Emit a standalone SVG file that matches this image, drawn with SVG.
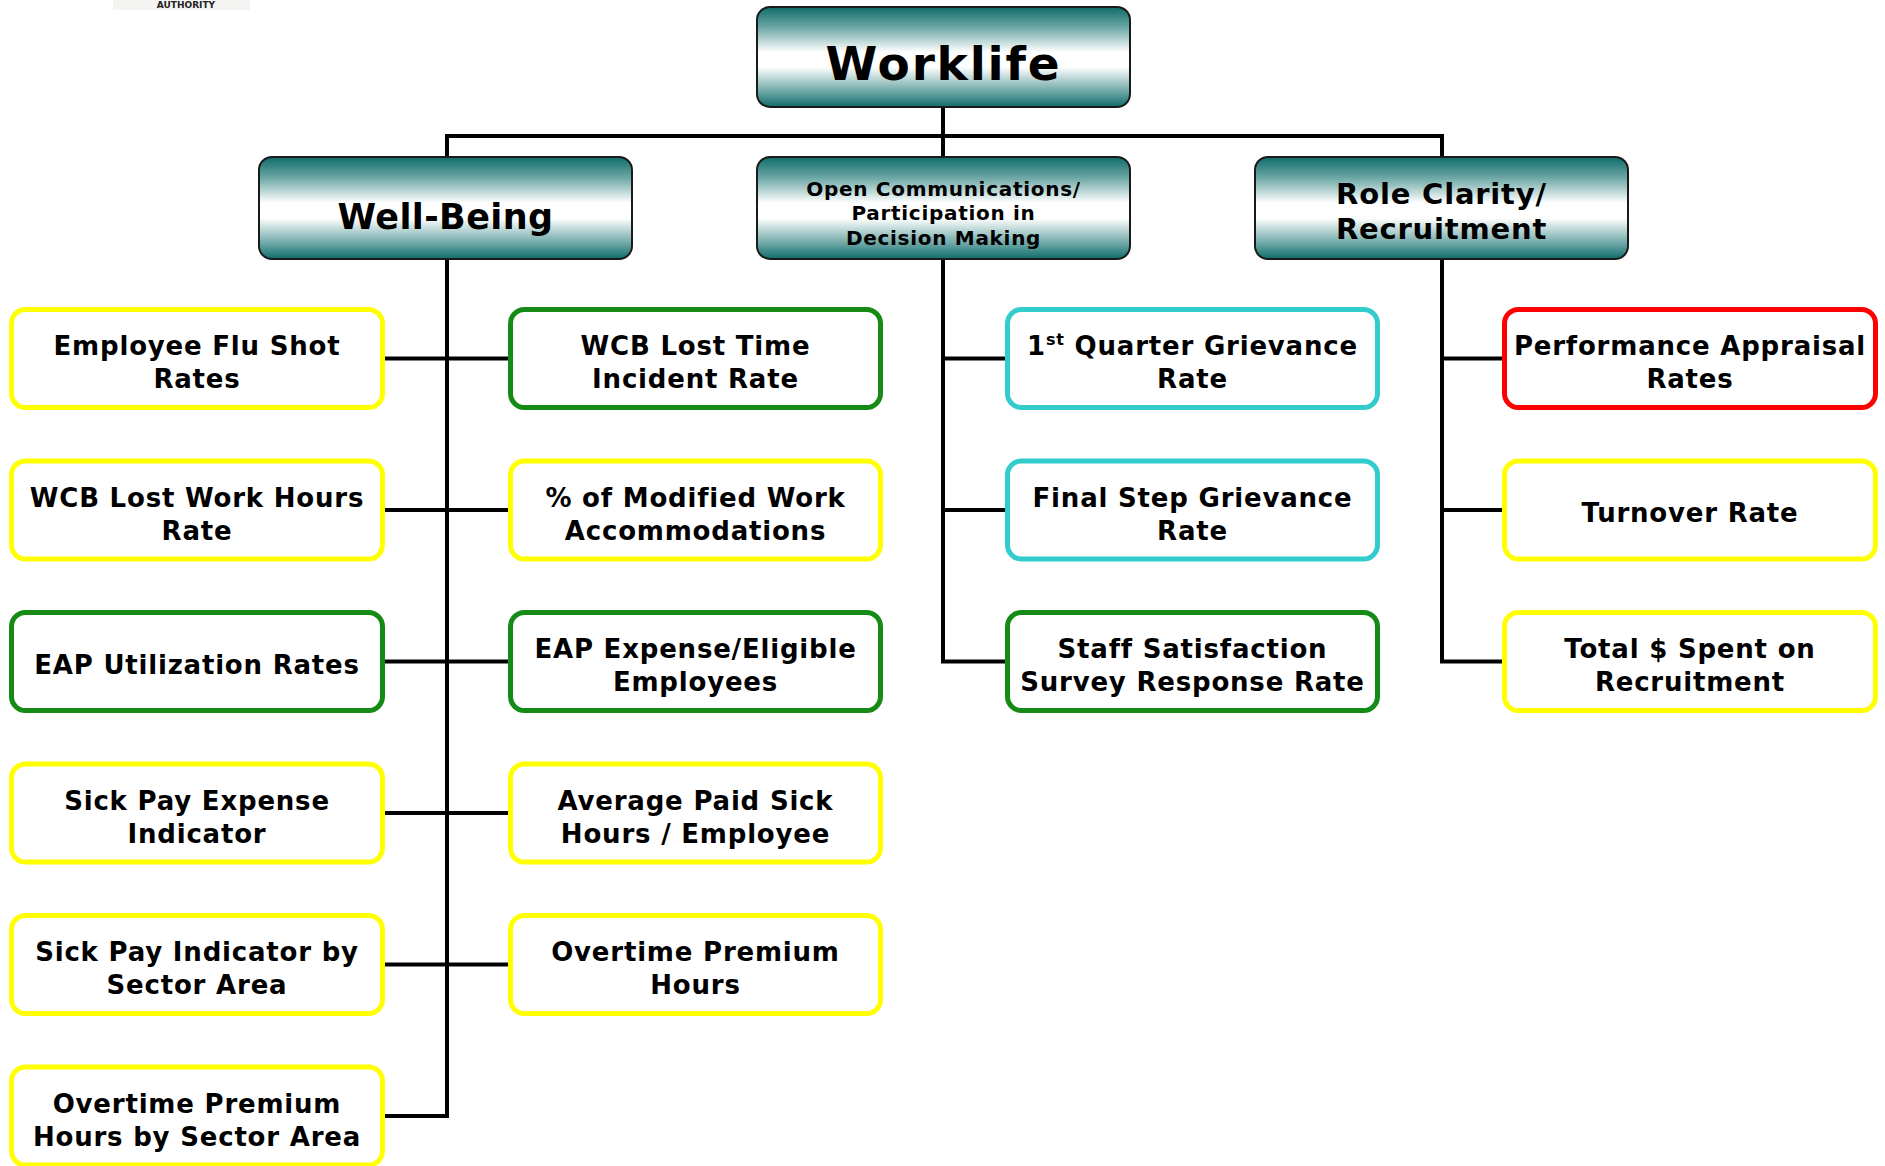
<svg xmlns="http://www.w3.org/2000/svg" width="1885" height="1166" viewBox="0 0 1885 1166">
<style>
  text { font-family: "DejaVu Sans", Verdana, sans-serif; font-weight: bold; fill: #000; text-anchor: middle; }
  .hdr { fill: url(#teal); stroke: #1a1a1a; stroke-width: 2; }
  .leaf { fill: #fff; stroke-width: 5; }
  .y { stroke: #ffff00; }
  .g { stroke: #158a15; }
  .c { stroke: #33cccc; }
  .r { stroke: #ff0000; }
  .lt { font-size: 26px; letter-spacing: 0.8px; }
  .conn { fill: none; stroke: #000; stroke-width: 4; stroke-linejoin: miter; stroke-linecap: butt; }
</style>
<defs>
  <linearGradient id="teal" x1="0" y1="0" x2="0" y2="1">
    <stop offset="0" stop-color="#0f6c6b"/>
    <stop offset="0.2" stop-color="#6aa6a4"/>
    <stop offset="0.45" stop-color="#ffffff"/>
    <stop offset="0.6" stop-color="#ffffff"/>
    <stop offset="0.85" stop-color="#6ba6a5"/>
    <stop offset="1" stop-color="#0f6c6b"/>
  </linearGradient>
</defs>
<rect width="1885" height="1166" fill="#fff"/>
<g id="logo">
  <rect x="113" y="0" width="137" height="10" fill="#f4f4f2"/>
  <text x="186" y="8" style="font-size:9px;fill:#222">AUTHORITY</text>
</g>

<g id="connectors">
  <path class="conn" d="M943 107 V157"/>
  <path class="conn" d="M447 157 V136 H1442 V157"/>
  <path class="conn" d="M447 259 V1116 H385"/>
  <path class="conn" d="M385 358.5 H508 M385 510 H508 M385 661.5 H508 M385 813 H508 M385 964.5 H508"/>
  <path class="conn" d="M943 259 V661.5 H1005 M943 358.5 H1005 M943 510 H1005"/>
  <path class="conn" d="M1442 259 V661.5 H1502 M1442 358.5 H1502 M1442 510 H1502"/>
</g>

<g id="worklife">
  <rect class="hdr" x="757" y="7" width="373" height="100" rx="13"/>
  <text x="943.5" y="80" style="font-size:47px;letter-spacing:1.8px">Worklife</text>
</g>
<g id="well-being">
  <rect class="hdr" x="259" y="157" width="373" height="102" rx="13"/>
  <text x="445.5" y="229" style="font-size:35px;letter-spacing:0.4px">Well-Being</text>
</g>
<g id="open-communications">
  <rect class="hdr" x="757" y="157" width="373" height="102" rx="13"/>
  <text x="943.5" y="196" style="font-size:20px;letter-spacing:0.7px">Open Communications/</text>
  <text x="943.5" y="220" style="font-size:20px;letter-spacing:0.7px">Participation in</text>
  <text x="943.5" y="245" style="font-size:20px;letter-spacing:0.7px">Decision Making</text>
</g>
<g id="role-clarity">
  <rect class="hdr" x="1255" y="157" width="373" height="102" rx="13"/>
  <text x="1441.5" y="204" style="font-size:29px;letter-spacing:0.8px">Role Clarity/</text>
  <text x="1441.5" y="239" style="font-size:29px;letter-spacing:0.8px">Recruitment</text>
</g>

<!-- column 1 -->
<g id="flu-shot">
  <rect class="leaf y" x="11.5" y="309.5" width="371" height="98" rx="14"/>
  <text class="lt" x="197" y="355">Employee Flu Shot</text>
  <text class="lt" x="197" y="388">Rates</text>
</g>
<g id="wcb-lost-work-hours">
  <rect class="leaf y" x="11.5" y="461" width="371" height="98" rx="14"/>
  <text class="lt" x="197" y="506.5">WCB Lost Work Hours</text>
  <text class="lt" x="197" y="539.5">Rate</text>
</g>
<g id="eap-utilization">
  <rect class="leaf g" x="11.5" y="612.5" width="371" height="98" rx="14"/>
  <text class="lt" x="197" y="673.5">EAP Utilization Rates</text>
</g>
<g id="sick-pay-expense">
  <rect class="leaf y" x="11.5" y="764" width="371" height="98" rx="14"/>
  <text class="lt" x="197" y="809.5">Sick Pay Expense</text>
  <text class="lt" x="197" y="842.5">Indicator</text>
</g>
<g id="sick-pay-sector">
  <rect class="leaf y" x="11.5" y="915.5" width="371" height="98" rx="14"/>
  <text class="lt" x="197" y="961">Sick Pay Indicator by</text>
  <text class="lt" x="197" y="994">Sector Area</text>
</g>
<g id="overtime-sector">
  <rect class="leaf y" x="11.5" y="1067" width="371" height="98" rx="14"/>
  <text class="lt" x="197" y="1112.5">Overtime Premium</text>
  <text class="lt" x="197" y="1145.5">Hours by Sector Area</text>
</g>

<!-- column 2 -->
<g id="wcb-lost-time">
  <rect class="leaf g" x="510.5" y="309.5" width="370" height="98" rx="14"/>
  <text class="lt" x="695.5" y="355">WCB Lost Time</text>
  <text class="lt" x="695.5" y="388">Incident Rate</text>
</g>
<g id="modified-work">
  <rect class="leaf y" x="510.5" y="461" width="370" height="98" rx="14"/>
  <text class="lt" x="695.5" y="506.5">% of Modified Work</text>
  <text class="lt" x="695.5" y="539.5">Accommodations</text>
</g>
<g id="eap-expense">
  <rect class="leaf g" x="510.5" y="612.5" width="370" height="98" rx="14"/>
  <text class="lt" x="695.5" y="658">EAP Expense/Eligible</text>
  <text class="lt" x="695.5" y="691">Employees</text>
</g>
<g id="avg-paid-sick">
  <rect class="leaf y" x="510.5" y="764" width="370" height="98" rx="14"/>
  <text class="lt" x="695.5" y="809.5">Average Paid Sick</text>
  <text class="lt" x="695.5" y="842.5">Hours / Employee</text>
</g>
<g id="overtime-hours">
  <rect class="leaf y" x="510.5" y="915.5" width="370" height="98" rx="14"/>
  <text class="lt" x="695.5" y="961">Overtime Premium</text>
  <text class="lt" x="695.5" y="994">Hours</text>
</g>

<!-- column 3 -->
<g id="first-quarter-grievance">
  <rect class="leaf c" x="1007.5" y="309.5" width="370" height="98" rx="14"/>
  <text class="lt" x="1192.5" y="355">1<tspan style="font-size:16px" dy="-10">st</tspan><tspan dy="10"> Quarter Grievance</tspan></text>
  <text class="lt" x="1192.5" y="388">Rate</text>
</g>
<g id="final-step-grievance">
  <rect class="leaf c" x="1007.5" y="461" width="370" height="98" rx="14"/>
  <text class="lt" x="1192.5" y="506.5">Final Step Grievance</text>
  <text class="lt" x="1192.5" y="539.5">Rate</text>
</g>
<g id="staff-satisfaction">
  <rect class="leaf g" x="1007.5" y="612.5" width="370" height="98" rx="14"/>
  <text class="lt" x="1192.5" y="658">Staff Satisfaction</text>
  <text class="lt" x="1192.5" y="691">Survey Response Rate</text>
</g>

<!-- column 4 -->
<g id="performance-appraisal">
  <rect class="leaf r" x="1504.5" y="309.5" width="371" height="98" rx="14"/>
  <text class="lt" x="1690" y="355">Performance Appraisal</text>
  <text class="lt" x="1690" y="388">Rates</text>
</g>
<g id="turnover">
  <rect class="leaf y" x="1504.5" y="461" width="371" height="98" rx="14"/>
  <text class="lt" x="1690" y="522">Turnover Rate</text>
</g>
<g id="recruitment-spend">
  <rect class="leaf y" x="1504.5" y="612.5" width="371" height="98" rx="14"/>
  <text class="lt" x="1690" y="658">Total $ Spent on</text>
  <text class="lt" x="1690" y="691">Recruitment</text>
</g>
</svg>
